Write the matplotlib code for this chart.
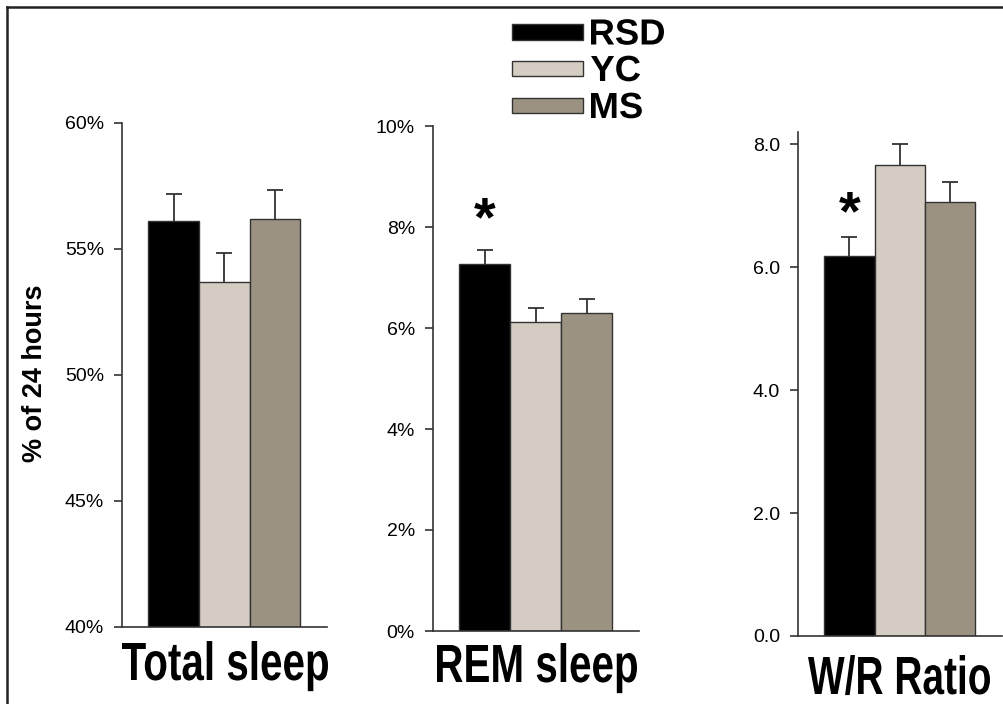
"""Sleep measures by group: total sleep, REM sleep and W/R ratio"""
import matplotlib
matplotlib.use('Agg')
import matplotlib.pyplot as plt
from matplotlib.font_manager import FontProperties
from matplotlib.lines import Line2D
from matplotlib.patches import PathPatch, Rectangle
from matplotlib.textpath import TextPath
from matplotlib.ticker import FuncFormatter
from matplotlib.transforms import Affine2D

plt.rcParams['font.family'] = ['Liberation Sans', 'DejaVu Sans']

groups = ['RSD', 'YC', 'MS']
colors = ['#000000', '#d5cdc4', '#9c9282']

total_sleep = [56.1, 53.7, 56.2]
total_sleep_err = [1.08, 1.13, 1.15]
rem_sleep = [7.27, 6.12, 6.30]
rem_sleep_err = [0.27, 0.28, 0.28]
wr_ratio = [6.18, 7.67, 7.06]
wr_ratio_err = [0.31, 0.34, 0.33]

panel_titles = ['Total sleep', 'REM sleep', 'W/R Ratio']

W, H = 1004, 704
fig = plt.figure(figsize=(W / 100, H / 100), dpi=100)

BOLD = FontProperties(family='Liberation Sans', weight='bold')
CAP = TextPath((0, 0), 'H', size=100, prop=BOLD).get_extents().height


def condensed_text(s, x0, cap_top, baseline, x1=None, sx=None):
    """Bold text drawn as a path, squeezed to fit a pixel box (y from the top)."""
    path = TextPath((0, 0), s, size=100, prop=BOLD)
    ext = path.get_extents()
    scale_y = (baseline - cap_top) / CAP
    scale_x = (x1 - x0) / ext.width if x1 is not None else scale_y * sx
    tr = Affine2D().translate(-ext.x0, 0).scale(scale_x, scale_y).translate(x0, H - baseline)
    fig.add_artist(PathPatch(path, transform=tr, facecolor='black', edgecolor='none'))
    return scale_x / scale_y


def px_axes(left, right, top, bottom):
    return fig.add_axes([left / W, 1 - bottom / H, (right - left) / W, (bottom - top) / H])


axes = [
    px_axes(122, 327, 123, 627),
    px_axes(433, 639, 126, 631),
    px_axes(798, 1002, 132, 636),
]

series = [(total_sleep, total_sleep_err), (rem_sleep, rem_sleep_err), (wr_ratio, wr_ratio_err)]
ylims = [(40, 60), (0, 10), (0, 8.2)]
yticks = [[40, 45, 50, 55, 60], [0, 2, 4, 6, 8, 10], [0, 2, 4, 6, 8]]
fmts = [lambda v, p: f'{v:.0f}%', lambda v, p: f'{v:.0f}%', lambda v, p: f'{v:.1f}']

for i, ax in enumerate(axes):
    vals, errs = series[i]
    x = list(range(len(groups)))
    bars = ax.bar(x, vals, width=1.0, color=colors, edgecolor='#333333', linewidth=1.0,
                  yerr=[[0] * len(errs), errs], capsize=6,
                  error_kw=dict(ecolor='#333333', elinewidth=1.3, capthick=1.3))
    # only the upper whisker is shown
    bars.errorbar.lines[1][0].set_visible(False)
    ax.set_xlim(-1.02, 3.03)
    ax.set_ylim(*ylims[i])
    ax.set_yticks(yticks[i])
    ax.yaxis.set_major_formatter(FuncFormatter(fmts[i]))
    ax.set_xticks([])
    for side in ('top', 'right'):
        ax.spines[side].set_visible(False)
    for side in ('left', 'bottom'):
        ax.spines[side].set_color('#333333')
        ax.spines[side].set_linewidth(1.2)
    ax.tick_params(axis='y', length=6, width=1.2, color='#333333', pad=7, labelsize=14)

# panel names under each chart (condensed bold)
condensed_text(panel_titles[0], 122, 643, 680, x1=328)
condensed_text(panel_titles[1], 437, 645, 682, x1=637)
condensed_text(panel_titles[2], 808, 657, 694, x1=990)

fig.text(35 / W, 1 - 373 / H, '% of 24 hours', rotation=90, ha='center', va='center',
         fontsize=19.5, fontweight='bold')

# significance markers over the RSD bars
for ax, (vals, errs), off in [(axes[1], series[1], 2), (axes[2], series[2], -3)]:
    ax.annotate('*', xy=(0, vals[0] + errs[0]), xytext=(0, off), textcoords='offset points',
                ha='center', va='bottom', fontsize=40, fontweight='bold')

# legend: swatches and condensed labels
swatch_rows = [(24, 40), (61, 76), (98, 113)]
sx = None
for name, c, (top, bot) in zip(groups, colors, swatch_rows):
    fig.add_artist(Rectangle((512, H - bot), 71, bot - top, transform=Affine2D(),
                             facecolor=c, edgecolor='#333333', linewidth=1.0))
    mid = (top + bot) / 2
    if sx is None:
        sx = condensed_text(name, 591, mid - 12.5, mid + 12.5, x1=664)
    else:
        condensed_text(name, 591, mid - 12.5, mid + 12.5, sx=sx)

# frame along the top and left edges
fig.add_artist(Line2D([7 / W, 7 / W], [0, 1 - 6.5 / H], transform=fig.transFigure,
                      color='#222222', linewidth=1.8))
fig.add_artist(Line2D([7 / W, 1], [1 - 6.5 / H, 1 - 6.5 / H], transform=fig.transFigure,
                      color='#222222', linewidth=1.8))

fig.savefig('out.png', dpi=100)
plt.close(fig)
